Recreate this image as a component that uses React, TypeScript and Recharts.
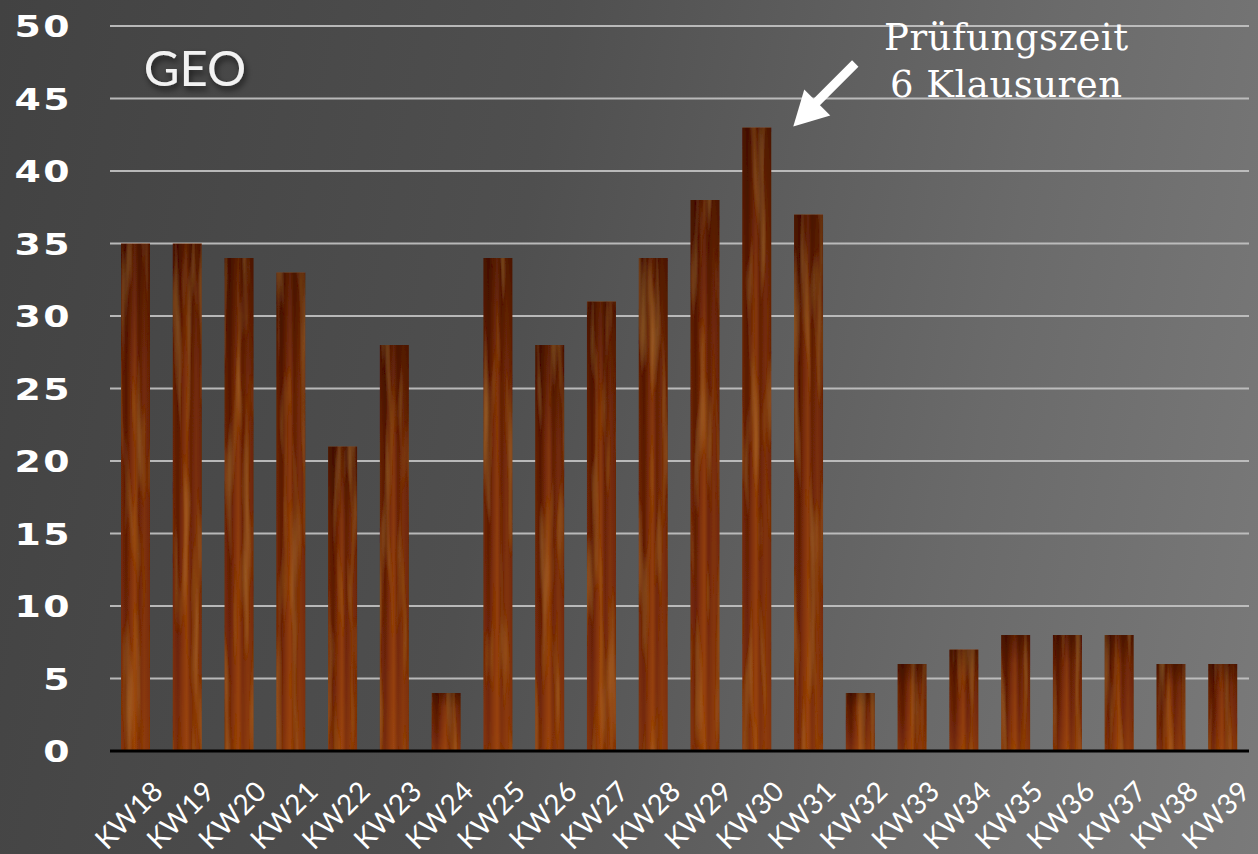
import React from "react";
import { BarChart, Bar, XAxis, YAxis, CartesianGrid, LabelList } from "recharts";

const weeks = [
  "KW18", "KW19", "KW20", "KW21", "KW22", "KW23", "KW24", "KW25", "KW26", "KW27", "KW28",
  "KW29", "KW30", "KW31", "KW32", "KW33", "KW34", "KW35", "KW36", "KW37", "KW38", "KW39",
];
const counts = [35, 35, 34, 33, 21, 28, 4, 34, 28, 31, 34, 38, 43, 37, 4, 6, 7, 8, 8, 8, 6, 6];
const yTicks = [0, 5, 10, 15, 20, 25, 30, 35, 40, 45, 50];
const peakWeek = "KW30";

const data = weeks.map((kw, i) => ({ kw, value: counts[i] }));

const XTick = (props: any) => {
  const { x, y, payload } = props;
  return (
    <text
      transform={`translate(${x + 29}, ${y + 34}) rotate(-45)`}
      textAnchor="end"
      fill="#ffffff"
      fontSize={28}
      letterSpacing={0.5}
      fontFamily="Lato, 'Open Sans', sans-serif"
    >
      {payload.value}
    </text>
  );
};

const YTick = (props: any) => {
  const { y, payload } = props;
  // wide, copperplate-ish numerals
  return (
    <text
      transform={`translate(72, ${y + 11}) scale(1.22, 1)`}
      textAnchor="end"
      fill="#ffffff"
      fontSize={31}
      fontWeight="bold"
      letterSpacing={2}
      fontFamily="'DejaVu Sans', sans-serif"
    >
      {payload.value}
    </text>
  );
};

// arrow + note anchored to the peak bar
const PeakNote = (props: any) => {
  const { x, y, width, index } = props;
  if (weeks[index] !== peakWeek) return null;
  const tx = x + width + 22;
  const ty = y - 1;
  return (
    <g>
      <line x1={tx + 11} y1={ty - 12} x2={tx + 62} y2={ty - 63} stroke="#fff" strokeWidth={9} />
      <polygon points={`${tx},${ty} ${tx + 11},${ty - 37} ${tx + 37},${ty - 11}`} fill="#fff" />
      <text
        textAnchor="middle"
        fill="#fff"
        fontSize={37}
        letterSpacing={0.5}
        fontFamily="'DejaVu Serif', serif"
      >
        <tspan x={tx + 213} y={ty - 77}>Prüfungszeit</tspan>
        <tspan x={tx + 213} y={ty - 30}>6 Klausuren</tspan>
      </text>
    </g>
  );
};

export default function App() {
  return (
    <div
      style={{
        position: "absolute",
        left: 0,
        top: 0,
        width: 1258,
        height: 854,
        background: "linear-gradient(100deg, #424242 0%, #4f4f4f 40%, #6a6a6a 75%, #7a7a7a 100%)",
        overflow: "hidden",
      }}
    >
      <svg width={0} height={0} style={{ position: "absolute" }}>
        <defs>
          <linearGradient id="woodStripes" x1="0" y1="0" x2="1" y2="0">
            <stop offset="0%" stopColor="#6e2607" />
            <stop offset="18%" stopColor="#581803" />
            <stop offset="34%" stopColor="#7a2d08" />
            <stop offset="48%" stopColor="#8f3d0e" />
            <stop offset="62%" stopColor="#672105" />
            <stop offset="80%" stopColor="#7b3009" />
            <stop offset="100%" stopColor="#6c2506" />
          </linearGradient>
          <linearGradient id="woodShade" x1="0" y1="0" x2="0" y2="1">
            <stop offset="0%" stopColor="#2a0500" stopOpacity={0.5} />
            <stop offset="25%" stopColor="#2a0500" stopOpacity={0.12} />
            <stop offset="60%" stopColor="#a04610" stopOpacity={0.1} />
            <stop offset="100%" stopColor="#b0521a" stopOpacity={0.35} />
          </linearGradient>
          <pattern id="wood" patternContentUnits="objectBoundingBox" width="1" height="1">
            <rect x="0" y="0" width="1" height="1" fill="url(#woodStripes)" />
            <rect x="0" y="0" width="1" height="1" fill="url(#woodShade)" />
          </pattern>
          <filter id="grain" x="0" y="0" width="100%" height="100%">
            <feTurbulence type="fractalNoise" baseFrequency="0.12 0.008" numOctaves={2} seed={7} result="noise" />
            <feColorMatrix
              in="noise"
              type="matrix"
              values="0 0 0 0 0.6  0 0 0 0 0.25  0 0 0 0 0.05  0.8 0 0 0 -0.4"
              result="tint"
            />
            <feComposite in="tint" in2="SourceGraphic" operator="in" result="grainy" />
            <feMerge>
              <feMergeNode in="SourceGraphic" />
              <feMergeNode in="grainy" />
            </feMerge>
          </filter>
          <filter id="shadow" x="-20%" y="-20%" width="140%" height="160%">
            <feDropShadow dx="2" dy="4" stdDeviation="3" floodColor="#000" floodOpacity="0.6" />
          </filter>
        </defs>
      </svg>

      <BarChart
        width={1258}
        height={854}
        data={data}
        margin={{ top: 26, right: 9, bottom: 0, left: 0 }}
        barSize={29}
      >
        <CartesianGrid horizontal vertical={false} stroke="#c4c4c4" strokeWidth={2} strokeOpacity={0.9} />
        <XAxis
          dataKey="kw"
          height={103}
          interval={0}
          tickLine={false}
          axisLine={{ stroke: "#000", strokeWidth: 3 }}
          tick={<XTick />}
        />
        <YAxis
          width={110}
          domain={[0, 50]}
          ticks={yTicks}
          axisLine={false}
          tickLine={false}
          tick={<YTick />}
        />
        <Bar dataKey="value" fill="url(#wood)" filter="url(#grain)" isAnimationActive={false}>
          <LabelList dataKey="value" content={<PeakNote />} />
        </Bar>
        <text
          x={195}
          y={86}
          textAnchor="middle"
          fill="#f2f2f2"
          fontSize={49}
          fontFamily="Lato, 'Open Sans', sans-serif"
          filter="url(#shadow)"
        >
          GEO
        </text>
      </BarChart>
    </div>
  );
}
